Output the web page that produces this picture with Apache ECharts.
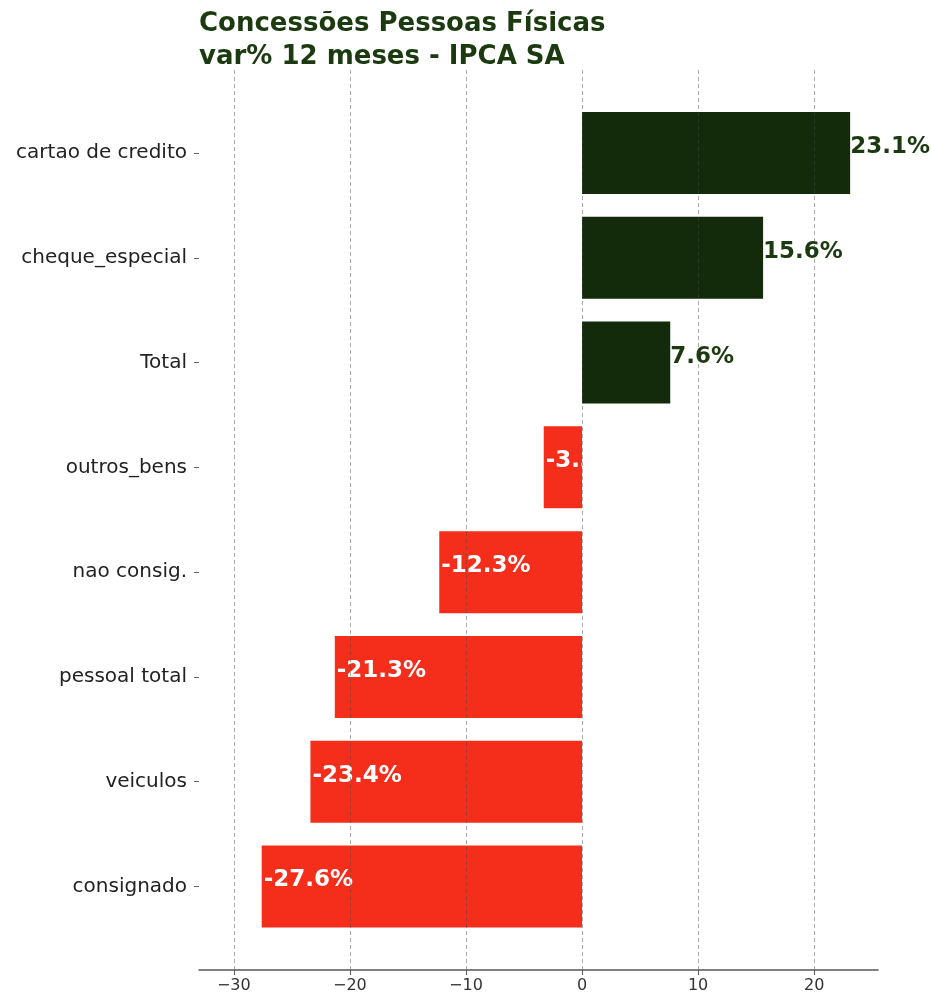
<!DOCTYPE html>
<html>
<head>
<meta charset="utf-8">
<script src="https://cdn.jsdelivr.net/npm/echarts@6/dist/echarts.min.js"></script>
<style>
html,body{margin:0;padding:0;background:#fff;}
#chart{width:931px;height:999px;}
</style>
</head>
<body>
<div id="chart"></div>
<script>
const categories = ['cartao de credito', 'cheque_especial', 'Total', 'outros_bens', 'nao consig.', 'pessoal total', 'veiculos', 'consignado'];
const values = [23.1, 15.6, 7.6, -3.3, -12.3, -21.3, -23.4, -27.6];
const xTicks = [-30, -20, -10, 0, 10, 20];
const titleLines = ['Concessões Pessoas Físicas', 'var% 12 meses - IPCA SA'];

const GREEN = '#132a0b';
const RED = '#f52d1b';
const FONT = 'DejaVu Sans';
const XMIN = -33, XMAX = 25.5;

const chart = echarts.init(document.getElementById('chart'), null, {renderer: 'canvas'});

const barData = values.map(v => {
  const pos = v >= 0;
  return {
    value: v,
    itemStyle: {color: pos ? GREEN : RED},
    label: pos ? {
      position: 'right', distance: 0, color: '#1b3a10', offset: [0, -6]
    } : {
      position: 'insideLeft', distance: 2, color: '#ffffff', offset: [0, -6]
    }
  };
});

const option = {
  backgroundColor: '#ffffff',
  animation: false,
  title: {
    text: titleLines.join('\n'),
    left: 194, top: 3,
    textStyle: {fontFamily: FONT, fontSize: 26, fontWeight: 'bold', color: '#1b3a10', lineHeight: 33}
  },
  grid: [
    {left: 199, right: 53, top: 100.6, bottom: 60.1},
    {left: 199, right: 53, top: 70, bottom: 29}
  ],
  xAxis: [
    {gridIndex: 0, type: 'value', min: XMIN, max: XMAX, show: false},
    {
      gridIndex: 1, type: 'value', min: XMIN, max: XMAX, z: 3,
      axisLine: {show: true, onZero: false, lineStyle: {color: '#555', width: 1.5}},
      axisTick: {show: true, customValues: xTicks, length: 5, lineStyle: {color: '#555'}},
      axisLabel: {
        customValues: xTicks, margin: 8, fontFamily: FONT, fontSize: 16, color: '#333',
        formatter: v => v < 0 ? '\u2212' + Math.abs(v) : String(v)
      },
      splitLine: {show: true, lineStyle: {color: 'rgba(70,70,70,0.45)', type: [4, 3], width: 1}}
    }
  ],
  yAxis: [
    {
      gridIndex: 0, type: 'category', data: categories, inverse: true,
      axisLine: {show: false, onZero: false},
      axisTick: {show: true, alignWithLabel: true, length: 5, lineStyle: {color: '#666'}},
      axisLabel: {margin: 12, fontFamily: FONT, fontSize: 20, color: '#222'},
      splitLine: {show: false}
    },
    {gridIndex: 1, type: 'value', min: 0, max: 1, show: false}
  ],
  series: [{
    type: 'bar',
    xAxisIndex: 0, yAxisIndex: 0,
    data: barData,
    barWidth: 82,
    label: {
      show: true,
      fontFamily: FONT, fontSize: 23, fontWeight: 'bold',
      formatter: p => p.value.toFixed(1) + '%'
    }
  }]
};
chart.setOption(option);
</script>
</body>
</html>
